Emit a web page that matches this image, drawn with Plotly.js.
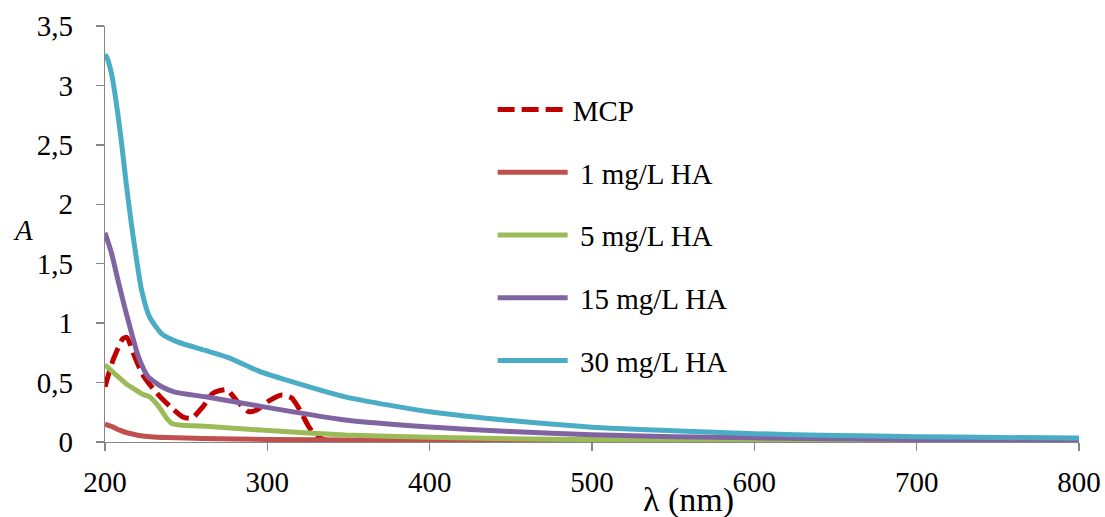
<!DOCTYPE html>
<html>
<head>
<meta charset="utf-8">
<script src="https://cdn.plot.ly/plotly-3.0.1.min.js"></script>
<style>
html,body{margin:0;padding:0;background:#fff}
#chart{width:1105px;height:517px}
</style>
</head>
<body>
<div id="chart"></div>
<script>
// ---- data ----
var seriesNames = ["MCP", "\u00a01 mg/L HA", "\u00a05 mg/L HA", "\u00a015 mg/L HA", "\u00a030 mg/L HA"];

var mcpX = [200,205,211,213.5,217.5,223.5,232,240,248,253.5,260.5,266.5,275,281,288.5,293.5,301.5,309,315,320,325.5,330.5,340,360,400,500,600,700,800];
var mcpY = [0.465,0.69,0.87,0.88,0.745,0.56,0.41,0.30,0.21,0.20,0.30,0.41,0.44,0.35,0.255,0.27,0.35,0.395,0.37,0.27,0.13,0.045,0.003,0,0,0,0,0,0];

var ha1X = [200,205,209,213,217.5,222,228,238,260,300,400,500,600,700,800];
var ha1Y = [0.15,0.125,0.10,0.08,0.065,0.053,0.045,0.038,0.03,0.022,0.013,0.009,0.007,0.006,0.005];

var ha5X = [200,208,214,217.5,223.5,227.5,233,238,241,246,266,296,348,400,450,500,600,700,800];
var ha5Y = [0.65,0.55,0.48,0.45,0.40,0.38,0.30,0.20,0.157,0.143,0.129,0.10,0.059,0.04,0.028,0.02,0.012,0.009,0.008];

var ha15X = [200,204,208,212,216.5,220.5,226.5,235,243,262,296,348,400,450,500,550,600,700,800];
var ha15Y = [1.76,1.59,1.36,1.14,0.91,0.72,0.55,0.465,0.42,0.38,0.30,0.185,0.126,0.088,0.06,0.045,0.035,0.022,0.015];

var ha30X = [200,201,204,207,210,213,216.5,219.5,222.5,227.5,235,245,262,276,296,317,348,375,400,450,500,550,600,650,700,750,800];
var ha30Y = [3.26,3.24,3.10,2.85,2.54,2.18,1.81,1.53,1.28,1.05,0.91,0.84,0.77,0.71,0.59,0.50,0.38,0.31,0.255,0.18,0.125,0.095,0.07,0.055,0.045,0.038,0.033];

var xTickVals = [200,300,400,500,600,700,800];
var yTickVals = [0,0.5,1,1.5,2,2.5,3,3.5];

var colors = ["#C00000", "#C0504D", "#9BBB59", "#8064A2", "#4BACC6"];
var FONT = "Liberation Serif, Times New Roman, serif";

function tr(i, x, y, dash) {
  var ln = {color: colors[i], width: 5, shape: "spline", smoothing: 0.6};
  if (dash) ln.dash = dash;
  return {x: x, y: y, type: "scatter", mode: "lines", name: seriesNames[i],
    legendgroup: "g" + i, line: ln, hoverinfo: "skip"};
}

var data = [
  tr(0, mcpX, mcpY, "17px,7px"),
  tr(1, ha1X, ha1Y),
  tr(2, ha5X, ha5Y),
  tr(3, ha15X, ha15Y),
  tr(4, ha30X, ha30Y)
];

var layout = {
  width: 1105, height: 517,
  margin: {l: 105, r: 26, t: 26, b: 75},
  paper_bgcolor: "#fff", plot_bgcolor: "#fff",
  separators: ", ",
  font: {family: FONT, color: "#000", size: 29},
  showlegend: true,
  legend: {x: 0.398, y: 0.86, xanchor: "left", yanchor: "top",
    font: {family: FONT, size: 29, color: "#000"},
    itemwidth: 70, tracegroupgap: 22, bgcolor: "rgba(0,0,0,0)"},
  xaxis: {range: [200, 800], tickvals: xTickVals, ticks: "outside", ticklen: 8, tickwidth: 1.3,
    tickcolor: "#868686", showline: true, linecolor: "#868686", linewidth: 1.3,
    showgrid: false, zeroline: false, tickfont: {family: FONT, size: 29, color: "#000"},
    ticklabelstandoff: 6},
  yaxis: {range: [0, 3.5], tickvals: yTickVals, ticks: "outside", ticklen: 8, tickwidth: 1.3,
    tickcolor: "#868686", showline: true, linecolor: "#868686", linewidth: 1.3,
    showgrid: false, zeroline: false, tickfont: {family: FONT, size: 29, color: "#000"},
    ticklabelstandoff: 17},
  annotations: [
    {text: "\u03bb (nm)", xref: "paper", yref: "paper", x: (688 - 105) / 974, y: -(500 - 442) / 416,
     xanchor: "center", yanchor: "middle", showarrow: false, font: {family: FONT, size: 34, color: "#000"}},
    {text: "<i>A</i>", xref: "paper", yref: "paper", x: (23 - 105) / 974, y: (442 - 230) / 416,
     xanchor: "center", yanchor: "middle", showarrow: false, font: {family: FONT, size: 29, color: "#000"}}
  ]
};

Plotly.newPlot("chart", data, layout, {staticPlot: true, displayModeBar: false});
</script>
</body>
</html>
